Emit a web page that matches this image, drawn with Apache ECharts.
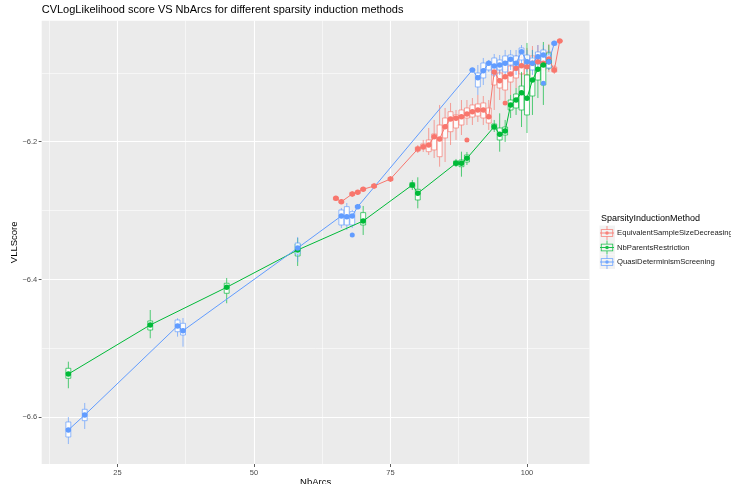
<!DOCTYPE html>
<html><head><meta charset="utf-8">
<script src="https://cdn.jsdelivr.net/npm/echarts@6/dist/echarts.min.js"></script>
<style>html,body{margin:0;padding:0;background:#fff}#c{width:731px;height:484px}</style>
</head><body><div id="c"></div>
<script>
const titleText = 'CVLogLikelihood score VS NbArcs for different sparsity induction methods';
const methods = ['EquivalentSampleSizeDecreasing', 'NbParentsRestriction', 'QuasiDeterminismScreening'];
const colors = ['#F8766D', '#00BA38', '#619CFF'];

// EquivalentSampleSizeDecreasing
const esdArcs = [65,66,68,69,70,72,75,80,81,82,83,84,85,86,87,88,89,90,91,92,93,94,95,96,97,98,99,100,101,102,103,104,105,106];
const esdStats = [ // [lower whisker, q1, median, q3, upper whisker]
 [-6.2861,-6.2846,-6.2821,-6.2803,-6.2788],[-6.2904,-6.2890,-6.2871,-6.2853,-6.2832],[-6.2803,-6.2781,-6.2759,-6.2737,-6.2716],
 [-6.2774,-6.2752,-6.2734,-6.2716,-6.2701],[-6.2730,-6.2708,-6.2691,-6.2672,-6.2657],[-6.2687,-6.2665,-6.2643,-6.2621,-6.2599],
 [-6.2585,-6.2563,-6.2541,-6.2520,-6.2498],[-6.2164,-6.2135,-6.2106,-6.2077,-6.2048],[-6.2149,-6.2106,-6.2073,-6.2033,-6.1975],
 [-6.2193,-6.2145,-6.2048,-6.1975,-6.1801],[-6.2237,-6.2120,-6.1932,-6.1888,-6.1685],[-6.2363,-6.2218,-6.1961,-6.1758,-6.1467],
 [-6.2295,-6.1946,-6.1787,-6.1656,-6.1511],[-6.2048,-6.1855,-6.1685,-6.1565,-6.1438],[-6.1975,-6.1801,-6.1656,-6.1612,-6.1540],
 [-6.1903,-6.1758,-6.1642,-6.1540,-6.1395],[-6.1758,-6.1656,-6.1598,-6.1511,-6.1395],[-6.1758,-6.1642,-6.1569,-6.1467,-6.1366],
 [-6.1714,-6.1627,-6.1540,-6.1453,-6.1322],[-6.1758,-6.1656,-6.1540,-6.1438,-6.1337],[-6.1830,-6.1729,-6.1642,-6.1511,-6.1395],
 [-6.1540,-6.1177,-6.0988,-6.0930,-6.0843],[-6.1395,-6.1221,-6.1105,-6.1003,-6.0930],[-6.1395,-6.1250,-6.1061,-6.0959,-6.0814],
 [-6.1322,-6.1134,-6.1017,-6.0901,-6.0785],[-6.1221,-6.1075,-6.0930,-6.0843,-6.0742],[-6.1177,-6.1017,-6.0901,-6.0785,-6.0669],
 [-6.1221,-6.1032,-6.0916,-6.0814,-6.0640],[-6.1105,-6.0959,-6.0858,-6.0756,-6.0611],[-6.1075,-6.0930,-6.0843,-6.0742,-6.0597],
 [-6.1105,-6.0959,-6.0858,-6.0771,-6.0640],[-6.0988,-6.0901,-6.0800,-6.0698,-6.0582],[-6.1017,-6.0988,-6.0959,-6.0916,-6.0887],
 [-6.0568,-6.0553,-6.0538,-6.0524,-6.0509]
];
const esdMean = [-6.2821,-6.2871,-6.2759,-6.2734,-6.2691,-6.2643,-6.2541,-6.2106,-6.2073,-6.2048,-6.1927,-6.1961,-6.1782,-6.1671,
 -6.1660,-6.1637,-6.1598,-6.1565,-6.1540,-6.1540,-6.1637,-6.0988,-6.1115,-6.1057,-6.1017,-6.0935,-6.0897,-6.0911,-6.0862,-6.0839,
 -6.0862,-6.0800,-6.0959,-6.0538];
const esdOutliers = [[89,-6.1975],[96,-6.1438]];

// NbParentsRestriction
const npArcs = [16,31,45,58,70,79,80,87,88,89,94,95,96,97,98,99,100,101,102,103,104];
const npStats = [
 [-6.5579,-6.5434,-6.5357,-6.5289,-6.5193],[-6.4853,-6.4733,-6.4660,-6.4602,-6.4443],[-6.4345,-6.4200,-6.4113,-6.4055,-6.3978],
 [-6.3804,-6.3659,-6.3572,-6.3485,-6.3398],[-6.3354,-6.3209,-6.3136,-6.3030,-6.2933],[-6.2701,-6.2662,-6.2628,-6.2595,-6.2556],
 [-6.2967,-6.2846,-6.2745,-6.2691,-6.2517],[-6.2367,-6.2338,-6.2313,-6.2280,-6.2251],[-6.2508,-6.2363,-6.2309,-6.2266,-6.2145],
 [-6.2338,-6.2295,-6.2241,-6.2193,-6.2149],[-6.1859,-6.1816,-6.1782,-6.1743,-6.1685],[-6.2145,-6.1975,-6.1888,-6.1801,-6.1588],
 [-6.2004,-6.1903,-6.1845,-6.1787,-6.1685],[-6.1656,-6.1540,-6.1467,-6.1395,-6.1322],[-6.1612,-6.1511,-6.1395,-6.1308,-6.1221],
 [-6.1787,-6.1540,-6.1293,-6.1192,-6.0988],[-6.1874,-6.1612,-6.1366,-6.1032,-6.0567],[-6.1612,-6.1337,-6.1105,-6.0901,-6.0669],
 [-6.1366,-6.1105,-6.0945,-6.0858,-6.0742],[-6.1467,-6.1177,-6.0887,-6.0756,-6.0553],[-6.0959,-6.0930,-6.0839,-6.0713,-6.0597]
];
const npMean = [-6.5372,-6.4660,-6.4113,-6.3572,-6.3151,-6.2628,-6.2749,-6.2313,-6.2313,-6.2241,-6.1782,-6.1893,-6.1845,-6.1467,
 -6.1395,-6.1289,-6.1370,-6.1105,-6.0949,-6.0887,-6.0839];
const npOutliers = [];

// QuasiDeterminismScreening
const qdArcs = [16,19,36,37,58,66,67,68,69,90,91,92,93,94,95,96,97,98,99,100,101,102,103,104,105];
const qdStats = [
 [-6.6388,-6.6286,-6.6170,-6.6068,-6.5996],[-6.6170,-6.6049,-6.5952,-6.5884,-6.5792],[-6.4830,-6.4758,-6.4660,-6.4588,-6.4563],
 [-6.4975,-6.4806,-6.4733,-6.4636,-6.4559],[-6.3746,-6.3630,-6.3543,-6.3470,-6.3383],[-6.3253,-6.3209,-6.3078,-6.2991,-6.2962],
 [-6.3282,-6.3209,-6.3078,-6.2943,-6.2890],[-6.3253,-6.3209,-6.3078,-6.3016,-6.2991],[-6.2977,-6.2962,-6.2943,-6.2926,-6.2904],
 [-6.0988,-6.0974,-6.0959,-6.0945,-6.0930],[-6.1322,-6.1206,-6.1075,-6.1003,-6.0887],[-6.1177,-6.1075,-6.0959,-6.0858,-6.0785],
 [-6.0988,-6.0959,-6.0862,-6.0843,-6.0814],[-6.1061,-6.1032,-6.0901,-6.0785,-6.0727],[-6.1032,-6.0959,-6.0887,-6.0814,-6.0742],
 [-6.1061,-6.0988,-6.0858,-6.0756,-6.0669],[-6.0959,-6.0887,-6.0800,-6.0742,-6.0669],[-6.1032,-6.0959,-6.0858,-6.0756,-6.0669],
 [-6.0887,-6.0814,-6.0698,-6.0640,-6.0597],[-6.0988,-6.0930,-6.0843,-6.0742,-6.0669],[-6.1032,-6.0959,-6.0858,-6.0785,-6.0669],
 [-6.0930,-6.0872,-6.0771,-6.0698,-6.0597],[-6.0887,-6.0843,-6.0742,-6.0669,-6.0597],[-6.0959,-6.0930,-6.0843,-6.0742,-6.0669],
 [-6.0611,-6.0597,-6.0572,-6.0553,-6.0538]
];
const qdMean = [-6.6184,-6.5967,-6.4675,-6.4743,-6.3543,-6.3078,-6.3089,-6.3078,-6.2943,-6.0959,-6.1071,-6.0970,-6.0862,-6.0901,
 -6.0887,-6.0862,-6.0804,-6.0862,-6.0694,-6.0839,-6.0862,-6.0766,-6.0742,-6.0839,-6.0572];
const qdOutliers = [[68,-6.3354],[103,-6.1152]];

const xMajor = [25, 50, 75, 100];
const xMinor = [12.5, 37.5, 62.5, 87.5];
const yMajor = [-6.6, -6.4, -6.2];
const yMinor = [-6.5, -6.3, -6.1];
const xRange = [11.12, 111.45];
const yRange = [-6.6678, -6.0244];

const groups = [
  {arcs: esdArcs, stats: esdStats, mean: esdMean, out: esdOutliers},
  {arcs: npArcs, stats: npStats, mean: npMean, out: npOutliers},
  {arcs: qdArcs, stats: qdStats, mean: qdMean, out: qdOutliers}
];

const FONT = '"Liberation Sans", Arial, Helvetica, sans-serif';

function boxRenderer(color) {
  return function (params, api) {
    const x = api.value(0);
    const lo = api.coord([x, api.value(1)]);
    const q1 = api.coord([x, api.value(2)]);
    const md = api.coord([x, api.value(3)]);
    const q3 = api.coord([x, api.value(4)]);
    const hi = api.coord([x, api.value(5)]);
    const w = api.size([0.9, 0])[0];
    const cx = lo[0];
    const ls = {stroke: color, lineWidth: 0.8, opacity: 0.85};
    return {
      type: 'group',
      children: [
        {type: 'line', shape: {x1: cx, y1: hi[1], x2: cx, y2: q3[1]}, style: ls},
        {type: 'line', shape: {x1: cx, y1: q1[1], x2: cx, y2: lo[1]}, style: ls},
        {type: 'rect', shape: {x: cx - w / 2, y: q3[1], width: w, height: Math.max(q1[1] - q3[1], 0.5)},
          style: {fill: '#ffffff', stroke: color, lineWidth: 0.8, opacity: 0.85}},
        {type: 'line', shape: {x1: cx - w / 2, y1: md[1], x2: cx + w / 2, y2: md[1]}, style: {stroke: color, lineWidth: 1.4}}
      ]
    };
  };
}

const gridLines = [];
xMajor.forEach(v => gridLines.push({xAxis: v, lineStyle: {width: 1.1}}));
xMinor.forEach(v => gridLines.push({xAxis: v, lineStyle: {width: 0.55}}));
yMajor.forEach(v => gridLines.push({yAxis: v, lineStyle: {width: 1.1}}));
yMinor.forEach(v => gridLines.push({yAxis: v, lineStyle: {width: 0.55}}));

const series = [];
groups.forEach((g, i) => {
  series.push({
    name: methods[i], type: 'custom', z: 2,
    renderItem: boxRenderer(colors[i]),
    itemStyle: {color: colors[i]},
    encode: {x: 0, y: [1, 2, 3, 4, 5]},
    data: g.arcs.map((a, k) => [a].concat(g.stats[k])),
    silent: true, animation: false
  });
});
groups.forEach((g, i) => {
  const s = {
    name: methods[i], type: 'line', z: 3,
    data: g.arcs.map((a, k) => [a, g.mean[k]]),
    symbol: 'circle', symbolSize: 5.5, showSymbol: true,
    lineStyle: {color: colors[i], width: 1},
    itemStyle: {color: colors[i], borderWidth: 0},
    emphasis: {disabled: true}, silent: true, animation: false
  };
  if (i === 0) {
    s.markLine = {
      silent: true, z: 1, symbol: ['none', 'none'], animation: false,
      label: {show: false}, emphasis: {disabled: true},
      lineStyle: {color: '#ffffff', type: 'solid', width: 1},
      data: gridLines
    };
  }
  series.push(s);
});
groups.forEach((g, i) => {
  series.push({
    name: methods[i], type: 'scatter', z: 3,
    data: g.out, symbol: 'circle', symbolSize: 5,
    itemStyle: {color: colors[i], borderWidth: 0, opacity: 1},
    emphasis: {disabled: true}, silent: true, animation: false
  });
});

const keyIcon = 'path://M8,0H9V4H16V13H9V17H8V13H1V4H8Z M2,5V12H15V5Z M0,8H17V9H0Z M6.3,8.5A2.2,2.2 0 1,1 10.7,8.5A2.2,2.2 0 1,1 6.3,8.5Z';

const legendTop = 226;
const keySize = 14.5;

const chart = echarts.init(document.getElementById('c'), null, {renderer: 'canvas'});
chart.setOption({
  animation: false,
  backgroundColor: '#ffffff',
  textStyle: {fontFamily: FONT},
  title: [
    {text: titleText, left: 41.7, top: 4, padding: 0, textStyle: {fontSize: 11, fontWeight: 'normal', color: '#000', fontFamily: FONT}},
    {text: 'SparsityInductionMethod', left: 601, top: 214, padding: 0, textStyle: {fontSize: 9, fontWeight: 'normal', color: '#000', fontFamily: FONT}}
  ],
  grid: {left: 41.7, right: 141.5, top: 20.7, bottom: 20, show: true, backgroundColor: '#EBEBEB', borderWidth: 0,
    containLabel: false, outerBoundsMode: 'none'},
  xAxis: {
    type: 'value', min: xRange[0], max: xRange[1],
    name: 'NbArcs', nameLocation: 'middle', nameGap: 13, nameMoveOverlap: false,
    nameTextStyle: {fontSize: 9.5, color: '#000', fontFamily: FONT},
    axisLine: {show: false},
    axisTick: {show: true, length: 3, customValues: xMajor, lineStyle: {color: '#333', width: 0.8}},
    axisLabel: {customValues: xMajor, fontSize: 7.5, color: '#4d4d4d', margin: 5, fontFamily: FONT},
    splitLine: {show: false}, minorSplitLine: {show: false}
  },
  yAxis: {
    type: 'value', min: yRange[0], max: yRange[1],
    name: 'VLLScore', nameLocation: 'middle', nameGap: 22, nameRotate: 90, nameMoveOverlap: false,
    nameTextStyle: {fontSize: 9.5, color: '#000', fontFamily: FONT},
    axisLine: {show: false},
    axisTick: {show: true, length: 3, customValues: yMajor, lineStyle: {color: '#333', width: 0.8}},
    axisLabel: {customValues: yMajor, fontSize: 7.5, color: '#4d4d4d', margin: 4.5, fontFamily: FONT,
      formatter: v => (v < 0 ? '\u2212' : '') + Math.abs(v).toFixed(1)},
    splitLine: {show: false}
  },
  legend: {
    orient: 'vertical', left: 600, top: legendTop, itemWidth: keySize - 0.5, itemHeight: keySize - 0.5, itemGap: 0.5,
    selectedMode: false, padding: 0,
    textStyle: {fontSize: 7.7, color: '#1a1a1a', fontFamily: FONT, padding: [0, 0, 0, -2]},
    data: methods.map((m, i) => ({name: m, icon: keyIcon, itemStyle: {color: colors[i], opacity: 0.9, borderWidth: 0}}))
  },
  graphic: methods.map((m, i) => ({
    type: 'rect', left: 599.5, top: legendTop + i * keySize - 0.5, z: 0, silent: true,
    shape: {width: keySize + 1, height: keySize},
    style: {fill: '#F2F2F2'}
  })),
  series: series
});
</script>
</body></html>
